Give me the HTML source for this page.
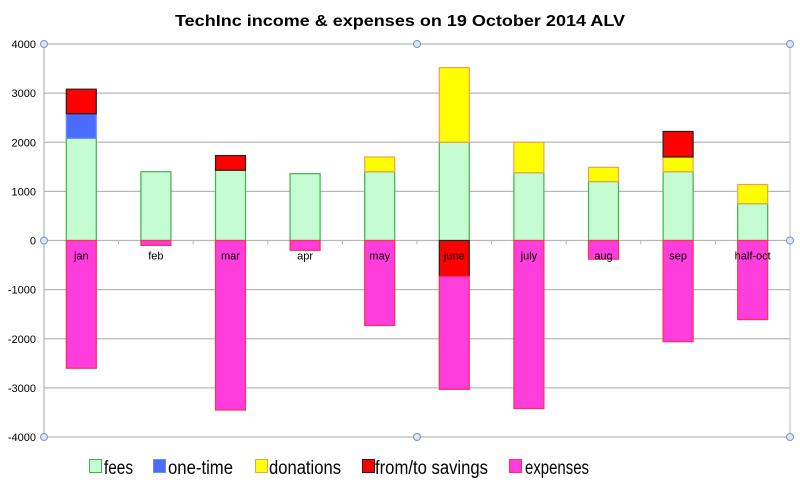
<!DOCTYPE html>
<html><head><meta charset="utf-8"><style>
body{margin:0;background:#fff;font-family:"Liberation Sans",sans-serif}
svg text{font-family:"Liberation Sans",sans-serif}
</style></head><body>
<svg id="c" width="800" height="485">
<text x="175" y="26" textLength="450" lengthAdjust="spacingAndGlyphs" font-size="16" font-weight="bold">TechInc income &amp; expenses on 19 October 2014 ALV</text>
<g id="grid"></g><g id="bars"></g><g id="labels"></g>
<g font-size="19">
<rect x="89.5" y="459.5" width="12" height="13" fill="#c6fcd2" stroke="#3cb44b"/><text x="104" y="474" textLength="29" lengthAdjust="spacingAndGlyphs">fees</text>
<rect x="153.5" y="459.5" width="12" height="13" fill="#4a6cff" stroke="#6a8cff"/><text x="168" y="474" textLength="65" lengthAdjust="spacingAndGlyphs">one-time</text>
<rect x="255.5" y="459.5" width="12" height="13" fill="#ffff00" stroke="#f0a050"/><text x="269" y="474" textLength="72" lengthAdjust="spacingAndGlyphs">donations</text>
<rect x="362.5" y="459.5" width="12" height="13" fill="#ff0000" stroke="#222"/><text x="375" y="474" textLength="113" lengthAdjust="spacingAndGlyphs">from/to savings</text>
<rect x="509.5" y="459.5" width="12" height="13" fill="#ff3cdc" stroke="#ff3050"/><text x="525" y="474" textLength="64" lengthAdjust="spacingAndGlyphs">expenses</text>
</g>
</svg>
<script>
const categories=["jan","feb","mar","apr","may","june","july","aug","sep","half-oct"];
const fees=[2080,1400,1430,1360,1400,2000,1380,1200,1400,750];
const oneTime=[500,0,0,0,0,0,0,0,0,0];
const donations=[0,0,0,0,300,1520,620,290,300,390];
const savings=[500,0,300,0,0,-730,0,0,520,0];
const expenses=[-2600,-100,-3450,-200,-1730,-2300,-3420,-380,-2060,-1610];
const yTicks=[4000,3000,2000,1000,0,-1000,-2000,-3000,-4000];
const NS="http://www.w3.org/2000/svg";
const L=44,R=790,T=44,B=437,ymin=-4000,ymax=4000;
const y=v=>T+(ymax-v)/(ymax-ymin)*(B-T);
const step=(R-L)/categories.length;
const xc=i=>L+step*(i+0.5);
function mk(tag,attrs,parent){const e=document.createElementNS(NS,tag);for(const k in attrs)e.setAttribute(k,attrs[k]);parent.appendChild(e);return e;}
const grid=document.getElementById('grid'),bars=document.getElementById('bars'),labels=document.getElementById('labels');
yTicks.forEach(t=>{
 const l=mk('line',{x1:L,x2:R,y1:y(t),y2:y(t),stroke:'#b8b8b8','stroke-width':1.3},grid);
 
 
 const tx=mk('text',{x:36,y:y(t)+4,'text-anchor':'end','font-size':11},grid);
 tx.textContent=t;
 
 
});
const ax=mk('line',{x1:L,x2:L,y1:T,y2:B,stroke:'#b8b8b8','stroke-width':1.3},grid);


const ax2=mk('line',{x1:R,x2:R,y1:T,y2:B,stroke:'#b8b8b8','stroke-width':1},grid);


for(let i=1;i<categories.length;i++){const tk=mk('line',{x1:L+step*i,x2:L+step*i,y1:y(0),y2:y(0)+4,stroke:'#b8b8b8'},grid);
 
 }
[[L,T],[R,T],[L,y(0)],[R,y(0)],[L,B],[R,B],[(L+R)/2,T],[(L+R)/2,B]].forEach(p=>{
 const h=mk('circle',{cx:p[0],cy:p[1],r:3.5,fill:'#dde6f5',stroke:'#7a93c0'},grid);
 
 
});
const W=30;
function seg(i,a,b,fill,stroke,name){
 if(a===b)return;
 const r=mk('rect',{x:xc(i)-W/2,y:Math.min(y(a),y(b)),width:W,height:Math.abs(y(a)-y(b)),fill:fill,stroke:stroke,'stroke-width':1.2},bars);
 
 
}
categories.forEach((c,i)=>{
 let p=0;
 seg(i,p,p+fees[i],'#c6fcd2','#3cb44b','fees-bar');p+=fees[i];
 seg(i,p,p+oneTime[i],'#4a6cff','#6a8cff','one-time-bar');p+=oneTime[i];
 seg(i,p,p+donations[i],'#ffff00','#f0a050','donations-bar');p+=donations[i];
 let n=0;
 if(savings[i]>=0){seg(i,p,p+savings[i],'#ff0000','#222','savings-bar');}
 else{seg(i,0,savings[i],'#ff0000','#222','savings-bar');n=savings[i];}
 seg(i,n,n+expenses[i],'#ff3cdc','#ff3050','expenses-bar');
 const t=mk('text',{x:xc(i),y:y(0)+19,'text-anchor':'middle','font-size':11},labels);
 t.textContent=c;
 
 
});
</script>
</body></html>
